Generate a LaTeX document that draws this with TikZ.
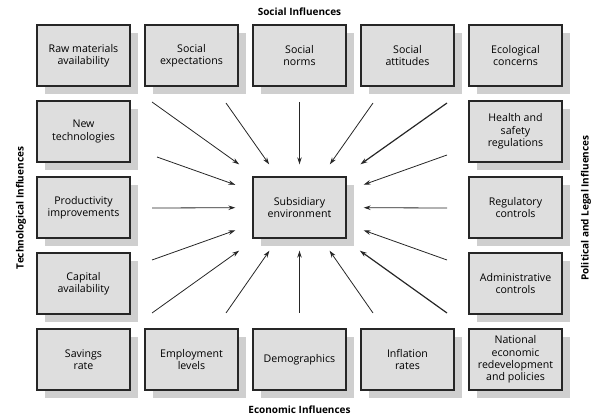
\documentclass[tikz,border=0pt]{standalone}
\usepackage{fontspec}
\setmainfont{Open Sans}
\usetikzlibrary{arrows.meta,shadows}

\tikzset{
  box/.style={draw=black!85, line width=1.1pt, fill=black!13, minimum width=93pt,
    minimum height=61pt, align=center, inner sep=2pt,
    font=\fontsize{10.6}{12.4}\selectfont,
    drop shadow={shadow xshift=8pt, shadow yshift=-8pt, fill=black!19, opacity=1}},
  hub/.style={minimum width=128pt, minimum height=86pt, inner sep=0pt},
  influence/.style={font=\bfseries\fontsize{10}{12}\selectfont},
  feed/.style={-{Stealth[length=7pt,width=4.5pt]}, line width=0.8pt, black!85},
  strong/.style={line width=1.2pt}
}

\begin{document}
\begin{tikzpicture}[x=1pt, y=-1pt]
  % Fix the page to the picture size
  \useasboundingbox (0,0) rectangle (597,419);

  % Column and row centres
  \def\ca{83.5} \def\cb{191.5} \def\cc{299.5} \def\cd{407.5} \def\ce{515.5}
  \def\ra{55.5} \def\rb{131.5} \def\rc{207.5} \def\rd{283.5} \def\re{359.5}

  % Top row: social influences
  \node[box] (raw)     at (\ca,\ra) {Raw materials\\availability};
  \node[box] (socexp)  at (\cb,\ra) {Social\\expectations};
  \node[box] (socnorm) at (\cc,\ra) {Social\\norms};
  \node[box] (socatt)  at (\cd,\ra) {Social\\attitudes};
  \node[box] (eco)     at (\ce,\ra) {Ecological\\concerns};

  % Left column: technological influences
  \node[box] (newtech) at (\ca,\rb) {New\\technologies};
  \node[box] (prod)    at (\ca,\rc) {Productivity\\improvements};
  \node[box] (capital) at (\ca,\rd) {Capital\\availability};

  % Right column: political and legal influences
  \node[box] (health)  at (\ce,\rb) {Health and\\safety\\regulations};
  \node[box] (reg)     at (\ce,\rc) {Regulatory\\controls};
  \node[box] (admin)   at (\ce,\rd) {Administrative\\controls};

  % Bottom row: economic influences
  \node[box] (savings)   at (\ca,\re) {Savings\\rate};
  \node[box] (employ)    at (\cb,\re) {Employment\\levels};
  \node[box] (demog)     at (\cc,\re) {Demographics};
  \node[box] (inflation) at (\cd,\re) {Inflation\\rates};
  \node[box] (national)  at (\ce,\re) {National\\economic\\redevelopment\\and policies};

  % Centre
  \node[box] (subs) at (\cc,\rc) {Subsidiary\\environment};
  \node[hub] (target) at (\cc,\rc) {};

  % Arrow tails
  \coordinate (t1) at (152,102); \coordinate (t2) at (226,103);
  \coordinate (t3) at (299.5,102); \coordinate (t4) at (373,103);
  \coordinate (t5) at (447,103);
  \coordinate (l1) at (157,157); \coordinate (l2) at (152,208);
  \coordinate (l3) at (152,260);
  \coordinate (r1) at (447,155); \coordinate (r2) at (447,208);
  \coordinate (r3) at (447,260);
  \coordinate (b1) at (152,313); \coordinate (b2) at (226,313);
  \coordinate (b3) at (299.5,313); \coordinate (b4) at (373,313);
  \coordinate (b5) at (447,313);

  % Arrows into the subsidiary environment
  \foreach \t in {t1,t2,t3,t4,l1,l2,l3,r1,r2,r3,b1,b2,b3,b4}
    \draw[feed] (\t) -- (target);
  \draw[feed, strong] (t5) -- (target);
  \draw[feed, strong] (b5) -- (target);

  % Group labels
  \node[influence] (social)   at (299.5,12)  {Social Influences};
  \node[influence] (economic) at (299.5,410) {Economic Influences};
  \node[influence, rotate=90] (techno)   at (21,208)  {Technological Influences};
  \node[influence, rotate=90] (politics) at (586,208) {Political and Legal Influences};
\end{tikzpicture}
\end{document}
